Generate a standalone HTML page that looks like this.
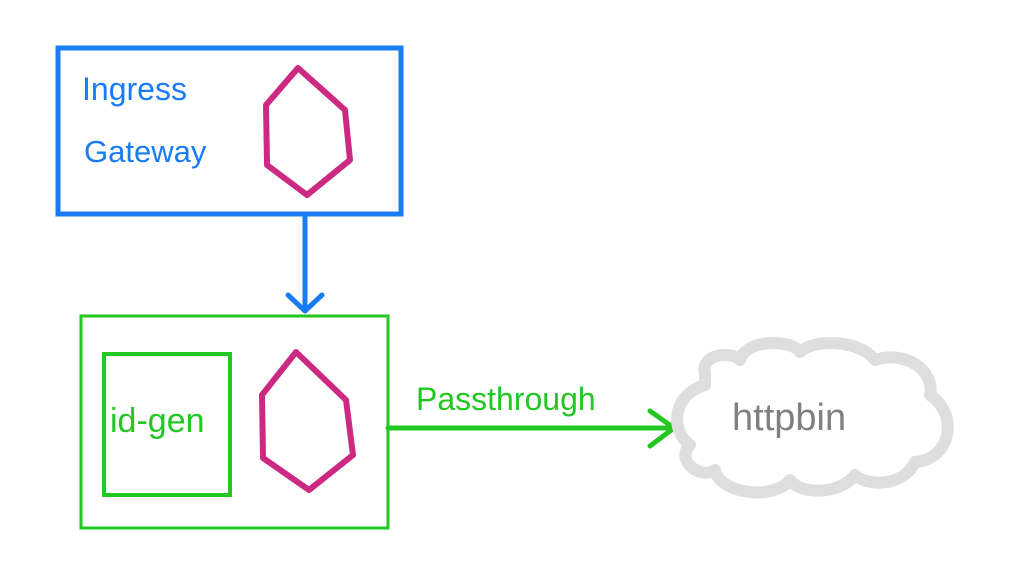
<!DOCTYPE html>
<html><head><meta charset="utf-8"><style>
html,body{margin:0;padding:0;background:#fff;}
svg{display:block;}
text{font-family:"Liberation Sans",sans-serif;}
</style></head><body>
<svg width="1024" height="584" viewBox="0 0 1024 584" xmlns="http://www.w3.org/2000/svg">
<rect x="58" y="48" width="343" height="166" fill="none" stroke="#1a7cf5" stroke-width="5"/>
<text x="82" y="100" font-size="32" fill="#1a7cf5">Ingress</text>
<text x="84" y="162" font-size="31" fill="#1a7cf5">Gateway</text>
<polygon points="298,68 345,110 350,160 307,195 267,165 266,105" fill="none" stroke="#cc2a82" stroke-width="6" stroke-linejoin="round"/>
<line x1="305" y1="214" x2="305" y2="310" stroke="#1a7cf5" stroke-width="5" stroke-linecap="round"/>
<polyline points="288,295 305,311 322,295" fill="none" stroke="#1a7cf5" stroke-width="5" stroke-linecap="round" stroke-linejoin="round"/>
<rect x="81" y="316" width="307" height="212" fill="none" stroke="#22c722" stroke-width="3"/>
<rect x="104" y="354" width="126" height="141" fill="none" stroke="#22c722" stroke-width="4"/>
<text x="110" y="432" font-size="34" fill="#22c722">id-gen</text>
<polygon points="296,352 346,400 353,455 309,490 263,458 262,395" fill="none" stroke="#cc2a82" stroke-width="6" stroke-linejoin="round"/>
<line x1="388" y1="428" x2="674" y2="428" stroke="#22c722" stroke-width="5" stroke-linecap="round"/>
<polyline points="650,411 674,428 650,446" fill="none" stroke="#22c722" stroke-width="5" stroke-linecap="round" stroke-linejoin="round"/>
<text x="416" y="410" font-size="32" fill="#22c722">Passthrough</text>
<path d="M705,373 C700,355 730,350 740,360 C745,340 790,338 800,352 C815,338 860,340 875,360 C905,350 935,370 930,395 C960,415 950,460 915,462 C905,485 870,488 855,475 C840,495 800,495 790,480 C775,500 720,495 715,470 C700,480 675,460 690,445 C670,430 672,395 705,385 Z" fill="none" stroke="#dedede" stroke-width="12" stroke-linejoin="round"/>
<text x="732" y="430" font-size="38" fill="#808080">httpbin</text>
</svg>
</body></html>
